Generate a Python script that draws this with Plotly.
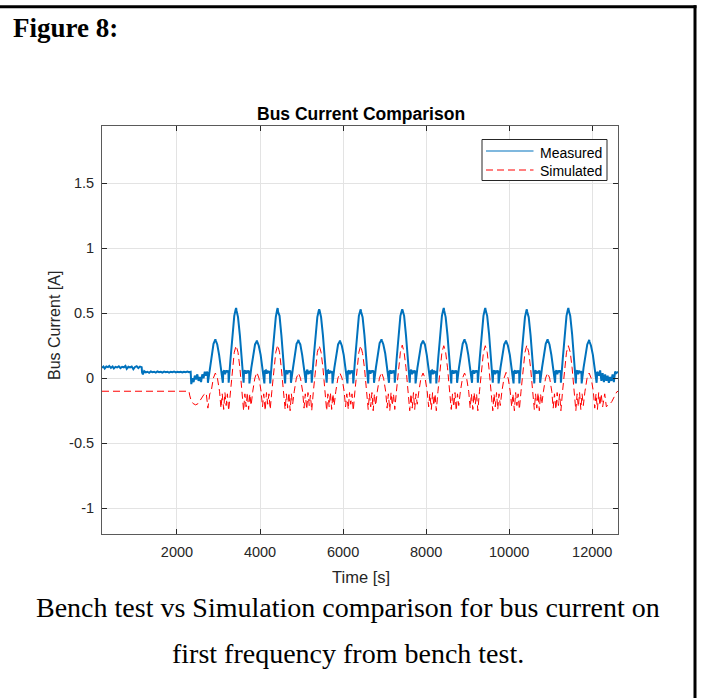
import plotly.graph_objects as go

# ---------------- data ----------------
measured_t = [
    195, 230, 260, 300, 340, 370, 410, 450, 480, 520, 560, 600, 640, 680, 720, 760, 790, 830, 870, 910,
    950, 990, 1030, 1070, 1110, 1150, 1160, 1180, 1210, 1250, 1290, 1330, 1370, 1410, 1450, 1490, 1530,
    1570, 1610, 1650, 1690, 1730, 1770, 1810, 1850, 1890, 1930, 1970, 2010, 2050, 2090, 2130, 2170, 2210,
    2250, 2290, 2330, 2340, 2345, 2370, 2400, 2430, 2460, 2490, 2520, 2550, 2580, 2610, 2640, 2670, 2700,
    2720, 2740,
    2745, 2790, 2835, 2880, 2915, 2925, 2935, 2970, 3015, 3060, 3105, 3115, 3140, 3160, 3180, 3200, 3225, 3240,
    3245, 3290, 3335, 3380, 3415, 3425, 3435, 3470, 3515, 3560, 3605, 3615, 3640, 3660, 3680, 3700, 3725, 3740,
    3745, 3790, 3835, 3880, 3915, 3925, 3935, 3970, 4015, 4060, 4105, 4115, 4140, 4160, 4180, 4200, 4225, 4240,
    4245, 4290, 4335, 4380, 4415, 4425, 4435, 4470, 4515, 4560, 4605, 4615, 4640, 4660, 4680, 4700, 4725, 4740,
    4745, 4790, 4835, 4880, 4915, 4925, 4935, 4970, 5015, 5060, 5105, 5115, 5140, 5160, 5180, 5200, 5225, 5240,
    5245, 5290, 5335, 5380, 5415, 5425, 5435, 5470, 5515, 5560, 5605, 5615, 5640, 5660, 5680, 5700, 5725, 5740,
    5745, 5790, 5835, 5880, 5915, 5925, 5935, 5970, 6015, 6060, 6105, 6115, 6140, 6160, 6180, 6200, 6225, 6240,
    6245, 6290, 6335, 6380, 6415, 6425, 6435, 6470, 6515, 6560, 6605, 6615, 6640, 6660, 6680, 6700, 6725, 6740,
    6745, 6790, 6835, 6880, 6915, 6925, 6935, 6970, 7015, 7060, 7105, 7115, 7140, 7160, 7180, 7200, 7225, 7240,
    7245, 7290, 7335, 7380, 7415, 7425, 7435, 7470, 7515, 7560, 7605, 7615, 7640, 7660, 7680, 7700, 7725, 7740,
    7745, 7790, 7835, 7880, 7915, 7925, 7935, 7970, 8015, 8060, 8105, 8115, 8140, 8160, 8180, 8200, 8225, 8240,
    8245, 8290, 8335, 8380, 8415, 8425, 8435, 8470, 8515, 8560, 8605, 8615, 8640, 8660, 8680, 8700, 8725, 8740,
    8745, 8790, 8835, 8880, 8915, 8925, 8935, 8970, 9015, 9060, 9105, 9115, 9140, 9160, 9180, 9200, 9225, 9240,
    9245, 9290, 9335, 9380, 9415, 9425, 9435, 9470, 9515, 9560, 9605, 9615, 9640, 9660, 9680, 9700, 9725, 9740,
    9745, 9790, 9835, 9880, 9915, 9925, 9935, 9970, 10015, 10060, 10105, 10115, 10140, 10160, 10180, 10200, 10225, 10240,
    10245, 10290, 10335, 10380, 10415, 10425, 10435, 10470, 10515, 10560, 10605, 10615, 10640, 10660, 10680, 10700, 10725, 10740,
    10745, 10790, 10835, 10880, 10915, 10925, 10935, 10970, 11015, 11060, 11105, 11115, 11140, 11160, 11180, 11200, 11225, 11240,
    11245, 11290, 11335, 11380, 11415, 11425, 11435, 11470, 11515, 11560, 11605, 11615, 11640, 11660, 11680, 11700, 11725, 11740,
    11745, 11790, 11835, 11880, 11915, 11925, 11935, 11970, 12015, 12060, 12105,
    12120, 12160, 12190, 12220, 12250, 12280, 12310, 12340, 12370, 12400, 12430, 12460, 12490, 12520, 12550, 12580, 12620,
]
measured_a = [
    0.08, 0.09, 0.075, 0.09, 0.085, 0.095, 0.08, 0.09, 0.075, 0.088, 0.083, 0.092, 0.078, 0.088, 0.084, 0.095, 0.072, 0.088, 0.083, 0.09,
    0.07, 0.087, 0.093, 0.078, 0.09, 0.085, 0.045, 0.03, 0.055, 0.045, 0.05, 0.042, 0.052, 0.047, 0.05, 0.043, 0.052,
    0.046, 0.05, 0.044, 0.051, 0.046, 0.05, 0.043, 0.05, 0.047, 0.052, 0.045, 0.05, 0.046, 0.05, 0.044, 0.05, 0.047,
    0.052, 0.046, 0.05, -0.02, -0.045, 0.0, -0.03, 0.02, -0.01, 0.03, -0.02, 0.01, -0.03, 0.03, 0.0, 0.05, 0.02,
    0.05, 0.04,
    -0.035, 0.08, 0.19, 0.265, 0.29, 0.30, 0.29, 0.26, 0.18, 0.07, -0.035, 0.05, 0.06, 0.03, 0.06, 0.045, 0.06, 0.04,
    -0.035, 0.15, 0.34, 0.48, 0.53, 0.54, 0.52, 0.47, 0.33, 0.14, -0.035, 0.05, 0.06, 0.035, 0.06, 0.04, 0.06, 0.045,
    -0.04, 0.08, 0.19, 0.26, 0.28, 0.29, 0.28, 0.25, 0.18, 0.07, -0.04, 0.055, 0.06, 0.035, 0.06, 0.04, 0.055, 0.04,
    -0.04, 0.15, 0.34, 0.47, 0.53, 0.54, 0.51, 0.48, 0.33, 0.14, -0.04, 0.05, 0.06, 0.03, 0.06, 0.045, 0.06, 0.04,
    -0.035, 0.07, 0.19, 0.265, 0.285, 0.295, 0.28, 0.26, 0.18, 0.08, -0.035, 0.05, 0.065, 0.03, 0.055, 0.045, 0.06, 0.035,
    -0.035, 0.15, 0.33, 0.47, 0.52, 0.53, 0.52, 0.47, 0.33, 0.15, -0.035, 0.055, 0.06, 0.035, 0.06, 0.04, 0.055, 0.045,
    -0.04, 0.08, 0.19, 0.26, 0.28, 0.29, 0.28, 0.25, 0.18, 0.07, -0.04, 0.05, 0.06, 0.03, 0.06, 0.04, 0.06, 0.04,
    -0.04, 0.15, 0.34, 0.48, 0.52, 0.53, 0.51, 0.47, 0.33, 0.14, -0.04, 0.05, 0.06, 0.035, 0.06, 0.045, 0.06, 0.04,
    -0.035, 0.08, 0.19, 0.27, 0.29, 0.30, 0.29, 0.26, 0.19, 0.07, -0.035, 0.05, 0.06, 0.035, 0.06, 0.04, 0.06, 0.04,
    -0.035, 0.15, 0.34, 0.48, 0.52, 0.53, 0.52, 0.48, 0.33, 0.15, -0.035, 0.05, 0.065, 0.03, 0.06, 0.04, 0.06, 0.045,
    -0.04, 0.08, 0.19, 0.26, 0.28, 0.29, 0.28, 0.26, 0.18, 0.07, -0.04, 0.055, 0.06, 0.03, 0.06, 0.045, 0.055, 0.04,
    -0.04, 0.15, 0.34, 0.48, 0.53, 0.54, 0.52, 0.47, 0.33, 0.14, -0.04, 0.05, 0.06, 0.035, 0.06, 0.04, 0.06, 0.04,
    -0.035, 0.08, 0.19, 0.265, 0.29, 0.30, 0.29, 0.26, 0.18, 0.07, -0.035, 0.05, 0.06, 0.035, 0.06, 0.045, 0.06, 0.04,
    -0.035, 0.15, 0.34, 0.48, 0.53, 0.54, 0.52, 0.48, 0.34, 0.15, -0.035, 0.05, 0.06, 0.03, 0.06, 0.04, 0.06, 0.045,
    -0.04, 0.08, 0.19, 0.26, 0.28, 0.29, 0.28, 0.25, 0.18, 0.07, -0.04, 0.05, 0.06, 0.035, 0.06, 0.04, 0.06, 0.04,
    -0.04, 0.15, 0.33, 0.47, 0.52, 0.53, 0.51, 0.47, 0.33, 0.14, -0.04, 0.05, 0.06, 0.035, 0.055, 0.045, 0.06, 0.04,
    -0.035, 0.08, 0.19, 0.265, 0.29, 0.30, 0.29, 0.26, 0.18, 0.07, -0.035, 0.05, 0.06, 0.03, 0.06, 0.045, 0.06, 0.04,
    -0.035, 0.15, 0.34, 0.48, 0.53, 0.54, 0.52, 0.48, 0.34, 0.15, -0.04, 0.05, 0.06, 0.03, 0.06, 0.04, 0.055, 0.045,
    -0.04, 0.08, 0.19, 0.26, 0.285, 0.295, 0.28, 0.25, 0.18, 0.07, -0.035,
    0.05, 0.02, 0.06, -0.02, 0.04, -0.03, 0.03, -0.02, 0.02, -0.035, 0.01, -0.02, 0.03, -0.03, 0.05, 0.04, 0.05,
]

simulated_t = [
    195, 2290, 2305, 2340, 2390, 2450, 2510, 2580, 2650, 2705, 2745, 2790,
    2825, 2875, 2925, 2975, 3025, 3060, 3090, 3125, 3155, 3185, 3215, 3245, 3285, 3335, 3380, 3425, 3470, 3515, 3565, 3605, 3635, 3665, 3695, 3725, 3755, 3785,
    3825, 3875, 3925, 3975, 4025, 4060, 4090, 4125, 4155, 4185, 4215, 4245, 4285, 4335, 4380, 4425, 4470, 4515, 4565, 4605, 4635, 4665, 4695, 4725, 4755, 4785,
    4825, 4875, 4925, 4975, 5025, 5060, 5090, 5125, 5155, 5185, 5215, 5245, 5285, 5335, 5380, 5425, 5470, 5515, 5565, 5605, 5635, 5665, 5695, 5725, 5755, 5785,
    5825, 5875, 5925, 5975, 6025, 6060, 6090, 6125, 6155, 6185, 6215, 6245, 6285, 6335, 6380, 6425, 6470, 6515, 6565, 6605, 6635, 6665, 6695, 6725, 6755, 6785,
    6825, 6875, 6925, 6975, 7025, 7060, 7090, 7125, 7155, 7185, 7215, 7245, 7285, 7335, 7380, 7425, 7470, 7515, 7565, 7605, 7635, 7665, 7695, 7725, 7755, 7785,
    7825, 7875, 7925, 7975, 8025, 8060, 8090, 8125, 8155, 8185, 8215, 8245, 8285, 8335, 8380, 8425, 8470, 8515, 8565, 8605, 8635, 8665, 8695, 8725, 8755, 8785,
    8825, 8875, 8925, 8975, 9025, 9060, 9090, 9125, 9155, 9185, 9215, 9245, 9285, 9335, 9380, 9425, 9470, 9515, 9565, 9605, 9635, 9665, 9695, 9725, 9755, 9785,
    9825, 9875, 9925, 9975, 10025, 10060, 10090, 10125, 10155, 10185, 10215, 10245, 10285, 10335, 10380, 10425, 10470, 10515, 10565, 10605, 10635, 10665, 10695, 10725, 10755, 10785,
    10825, 10875, 10925, 10975, 11025, 11060, 11090, 11125, 11155, 11185, 11215, 11245, 11285, 11335, 11380, 11425, 11470, 11515, 11565, 11605, 11635, 11665, 11695, 11725, 11755, 11785,
    11825, 11875, 11925, 11975, 12025, 12060, 12090, 12125, 12155, 12185, 12215, 12250, 12300, 12340, 12380, 12420, 12470, 12530, 12590, 12620,
]
simulated_a = [
    -0.1, -0.1, -0.13, -0.17, -0.195, -0.205, -0.195, -0.16, -0.125, -0.115, -0.23, -0.12,
    -0.1, 0.0, 0.04, 0.0, -0.1, -0.23, -0.12, -0.24, -0.11, -0.21, -0.12, -0.25, -0.1, 0.08, 0.2, 0.25, 0.2, 0.08, -0.1, -0.25, -0.12, -0.22, -0.11, -0.24, -0.12, -0.21,
    -0.1, 0.0, 0.045, 0.0, -0.1, -0.22, -0.12, -0.25, -0.11, -0.2, -0.12, -0.24, -0.1, 0.08, 0.2, 0.255, 0.2, 0.07, -0.1, -0.24, -0.12, -0.23, -0.11, -0.25, -0.12, -0.2,
    -0.1, 0.0, 0.04, 0.0, -0.1, -0.23, -0.12, -0.24, -0.11, -0.21, -0.13, -0.25, -0.1, 0.08, 0.2, 0.25, 0.2, 0.08, -0.1, -0.25, -0.12, -0.22, -0.11, -0.24, -0.12, -0.21,
    -0.1, 0.0, 0.04, 0.0, -0.1, -0.22, -0.12, -0.24, -0.11, -0.2, -0.12, -0.25, -0.1, 0.07, 0.2, 0.25, 0.19, 0.08, -0.1, -0.24, -0.12, -0.22, -0.11, -0.25, -0.12, -0.21,
    -0.1, 0.0, 0.045, 0.0, -0.1, -0.23, -0.12, -0.25, -0.11, -0.21, -0.12, -0.24, -0.1, 0.08, 0.2, 0.255, 0.2, 0.08, -0.1, -0.25, -0.12, -0.23, -0.11, -0.24, -0.12, -0.2,
    -0.1, 0.0, 0.04, 0.0, -0.1, -0.22, -0.12, -0.24, -0.11, -0.21, -0.12, -0.25, -0.1, 0.08, 0.2, 0.25, 0.2, 0.08, -0.1, -0.24, -0.12, -0.22, -0.11, -0.25, -0.12, -0.21,
    -0.1, 0.0, 0.04, 0.0, -0.1, -0.23, -0.12, -0.24, -0.11, -0.2, -0.12, -0.25, -0.1, 0.08, 0.2, 0.25, 0.2, 0.07, -0.1, -0.25, -0.12, -0.22, -0.11, -0.24, -0.12, -0.21,
    -0.1, 0.0, 0.045, 0.0, -0.1, -0.22, -0.12, -0.25, -0.11, -0.21, -0.12, -0.24, -0.1, 0.08, 0.2, 0.255, 0.2, 0.08, -0.1, -0.24, -0.12, -0.23, -0.11, -0.25, -0.12, -0.2,
    -0.1, 0.0, 0.04, 0.0, -0.1, -0.23, -0.12, -0.24, -0.11, -0.21, -0.12, -0.25, -0.1, 0.08, 0.2, 0.25, 0.2, 0.08, -0.1, -0.25, -0.12, -0.22, -0.11, -0.24, -0.12, -0.21,
    -0.1, 0.0, 0.04, 0.0, -0.1, -0.23, -0.12, -0.24, -0.11, -0.21, -0.12, -0.22, -0.12, -0.22, -0.205, -0.2, -0.18, -0.14, -0.105, -0.1,
]

series_names = ["Measured", "Simulated"]
x_ticks = [2000, 4000, 6000, 8000, 10000, 12000]
x_tick_text = ["2000", "4000", "6000", "8000", "10000", "12000"]
y_ticks = [-1, -0.5, 0, 0.5, 1, 1.5]
y_tick_text = ["-1", "-0.5", "0", "0.5", "1", "1.5"]

# ---------------- figure ----------------
W, H = 704, 698
L, R, T, B = 102, 618, 126, 534   # plot box in pixels


def px(x):
    return (x - L) / (R - L)


def py(y):
    return (B - y) / (B - T)


AX = "#262626"
BLUE = "#0072BD"
RED = "#FF0000"
DASH = "7px,4px"
SANS = "Liberation Sans, Arial, sans-serif"
SERIF = "Liberation Serif, Times New Roman, serif"

fig = go.Figure()
fig.add_trace(go.Scatter(x=measured_t, y=measured_a, mode="lines", name=series_names[0],
                         line=dict(color=BLUE, width=2)))
fig.add_trace(go.Scatter(x=simulated_t, y=simulated_a, mode="lines", name=series_names[1],
                         line=dict(color=RED, width=1, dash=DASH)))

axis_common = dict(showline=True, linecolor="#5a5a5a", linewidth=1, mirror="ticks",
                   ticks="inside", ticklen=5, tickcolor=AX, showgrid=True,
                   gridcolor="#e3e3e3", gridwidth=1, zeroline=False,
                   tickfont=dict(family=SANS, size=14.5, color=AX))

fig.update_xaxes(range=[195, 12620], tickvals=x_ticks, ticktext=x_tick_text,
                 ticklabelstandoff=5, **axis_common)
fig.update_yaxes(range=[-1.198, 1.94], tickvals=y_ticks, ticktext=y_tick_text,
                 ticklabelstandoff=4, **axis_common)

annotations = [
    dict(text="<b>Bus Current Comparison</b>", x=px(360.5), y=py(114), xref="paper", yref="paper",
         showarrow=False, xanchor="center", yanchor="middle",
         font=dict(family=SANS, size=17.5, color="#000000")),
    dict(text="Time [s]", x=px(361), y=py(577), xref="paper", yref="paper",
         showarrow=False, xanchor="center", yanchor="middle",
         font=dict(family=SANS, size=16.5, color=AX)),
    dict(text="Bus Current [A]", x=px(54), y=py(326), xref="paper", yref="paper",
         showarrow=False, xanchor="center", yanchor="middle", textangle=-90,
         font=dict(family=SANS, size=16, color=AX)),
    dict(text="<b>Figure 8:</b>", x=px(11), y=py(28), xref="paper", yref="paper",
         showarrow=False, xanchor="left", yanchor="middle",
         font=dict(family=SERIF, size=27, color="#000000")),
    dict(text="Bench test vs Simulation comparison for bus current on", x=px(348), y=py(607),
         xref="paper", yref="paper", showarrow=False, xanchor="center", yanchor="middle",
         font=dict(family=SERIF, size=28, color="#000000")),
    dict(text="first frequency from bench test.", x=px(348), y=py(653),
         xref="paper", yref="paper", showarrow=False, xanchor="center", yanchor="middle",
         font=dict(family=SERIF, size=28, color="#000000")),
    # legend labels (legend drawn by hand to match MATLAB's compact box)
    dict(text=series_names[0], x=px(538), y=py(152.5), xref="paper", yref="paper",
         showarrow=False, xanchor="left", yanchor="middle",
         font=dict(family=SANS, size=14, color="#000000")),
    dict(text=series_names[1], x=px(538), y=py(171), xref="paper", yref="paper",
         showarrow=False, xanchor="left", yanchor="middle",
         font=dict(family=SANS, size=14, color="#000000")),
]

shapes = [
    # page frame lines
    dict(type="line", xref="paper", yref="paper", x0=px(0), x1=px(696.5), y0=py(6.8), y1=py(6.8),
         line=dict(color="#000000", width=3)),
    dict(type="line", xref="paper", yref="paper", x0=px(695), x1=px(695), y0=py(5.3), y1=py(700),
         line=dict(color="#000000", width=3)),
    # legend box and samples
    dict(type="rect", xref="paper", yref="paper", x0=px(482), x1=px(607), y0=py(139.5), y1=py(180.5),
         line=dict(color=AX, width=1), fillcolor="#ffffff", layer="above"),
    dict(type="line", xref="paper", yref="paper", x0=px(486), x1=px(533.5), y0=py(151), y1=py(151),
         line=dict(color=BLUE, width=1.2), layer="above"),
    dict(type="line", xref="paper", yref="paper", x0=px(486), x1=px(533.5), y0=py(170), y1=py(170),
         line=dict(color=RED, width=1, dash=DASH), layer="above"),
]

fig.update_layout(
    width=W, height=H,
    margin=dict(l=L, r=W - R, t=T, b=H - B, pad=0),
    paper_bgcolor="#ffffff", plot_bgcolor="#ffffff",
    showlegend=False,
    annotations=annotations,
    shapes=shapes,
)

fig.write_html("out.html")
